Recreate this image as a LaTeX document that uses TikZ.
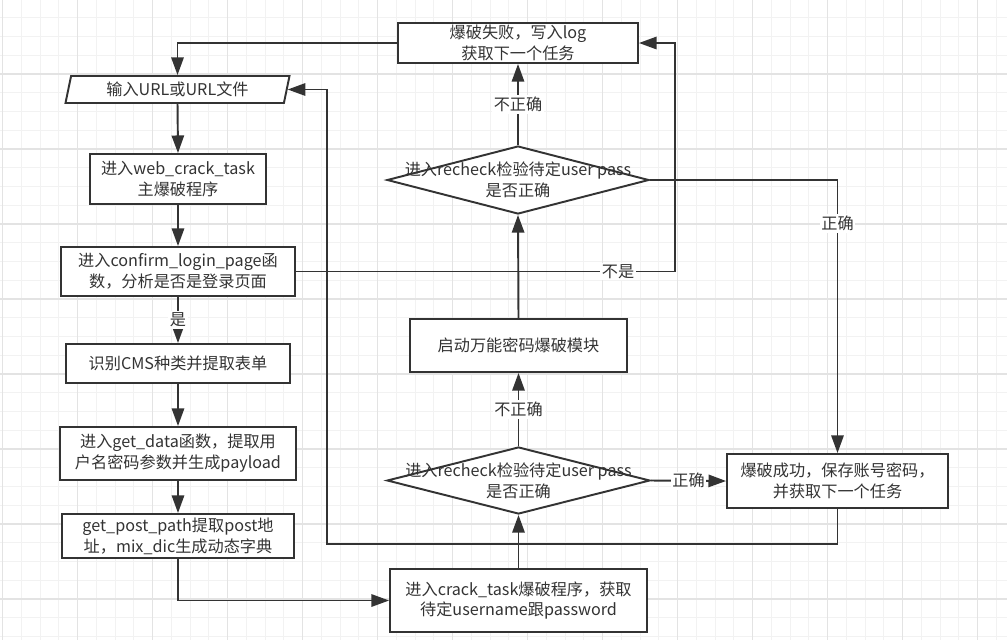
\documentclass[tikz,border=0pt]{standalone}
\usepackage{fontspec}
\setmainfont{Noto Sans CJK SC}
\usetikzlibrary{shapes.geometric,arrows.meta}
\definecolor{ink}{HTML}{333333}
\definecolor{gridminor}{HTML}{F2F2F2}
\definecolor{gridmajor}{HTML}{E3E3E3}

\begin{document}
\begin{tikzpicture}[x=0.02cm,y=-0.02cm,font=\fontsize{9.2pt}{11.9pt}\selectfont,text=ink,
  box/.style={draw=ink,line width=1.1pt,fill=white,align=center,inner sep=0pt},
  io/.style={box,trapezium,trapezium left angle=76,trapezium right angle=104,trapezium stretches=true},
  test/.style={box,diamond},
  link/.style={draw=ink,line width=1.1pt},
  arr/.style={link,-{Triangle[length=10pt,width=7pt]}},
  tag/.style={fill=white,inner sep=1pt}]
  \useasboundingbox (0,0) rectangle (1007,640);
  \fill[white] (0,0) rectangle (1007,640);
  % 背景网格
  \foreach \i in {0,...,53} \draw[gridminor,line width=0.6pt] ({2.7+18.75*\i},0) -- ({2.7+18.75*\i},640);
  \foreach \i in {1,...,34} \draw[gridminor,line width=0.6pt] (0,{-1+18.75*\i}) -- (1007,{-1+18.75*\i});
  \foreach \i in {0,...,13} \draw[gridmajor,line width=0.6pt] ({2.7+75*\i},0) -- ({2.7+75*\i},640);
  \foreach \i in {1,...,8} \draw[gridmajor,line width=0.6pt] (0,{-1+75*\i}) -- (1007,{-1+75*\i});

  \node[io,minimum width=45mm,minimum height=5.4mm] (inp) at (177.5,89.5) {输入URL或URL文件};
  \node[box,minimum width=35.2mm,minimum height=10mm] (task) at (178,179) {进入web\_crack\_task\\主爆破程序};
  \node[box,minimum width=46.8mm,minimum height=9.8mm] (login) at (178,271.5) {进入confirm\_login\_page函\\数，分析是否是登录页面};
  \node[box,minimum width=44.8mm,minimum height=7.8mm] (cms) at (178,363.5) {识别CMS种类并提取表单};
  \node[box,minimum width=47.2mm,minimum height=10.6mm] (getdata) at (178,453.5) {进入get\_data函数，提取用\\户名密码参数并生成payload};
  \node[box,minimum width=46.4mm,minimum height=8.8mm] (postpath) at (178,536) {get\_post\_path提取post地\\址，mix\_dic生成动态字典};
  \node[box,minimum width=51.4mm,minimum height=12.6mm] (crack) at (518.5,600.5) {进入crack\_task爆破程序，获取\\待定username跟password};
  \node[test,minimum width=52.6mm,minimum height=13.4mm,
    label={[align=center]center:{进入recheck检验待定user pass\\是否正确}}] (chk2) at (518.5,480.5) {};
  \node[box,minimum width=43.4mm,minimum height=10.6mm] (brute) at (518.5,345.5) {启动万能密码爆破模块};
  \node[test,minimum width=52.4mm,minimum height=13.6mm,
    label={[align=center]center:{进入recheck检验待定user pass\\是否正确}}] (chk1) at (518,180) {};
  \node[box,minimum width=48mm,minimum height=8mm] (fail) at (518,43) {爆破失败，写入log\\获取下一个任务};
  \node[box,minimum width=44.2mm,minimum height=10.8mm] (succ) at (837.5,481) {爆破成功，保存账号密码，\\并获取下一个任务};
  \coordinate (rtop) at (675,43);
  \coordinate (lback) at (327,544);

  \draw[arr] (fail.west) -| (inp.north);
  \draw[arr] (inp.south) -- (task.north);
  \draw[arr] (task.south) -- (login.north);
  \draw[arr] (login.south) -- node[tag] {是} (cms.north);
  \draw[arr] (cms.south) -- (getdata.north);
  \draw[arr] (getdata.south) -- (postpath.north);
  \draw[arr] (postpath.south) |- (crack.west);
  \draw[arr] (crack.north) -- (chk2.south);
  \draw[arr] (chk2.north) -- node[tag] {不正确} (brute.south);
  \draw[arr] (brute.north) -- (chk1.south);
  \draw[arr] (chk1.north) -- node[tag] {不正确} (fail.south);
  \draw[arr] (chk1.east) -| node[tag,pos=0.58] {正确} (succ.north);
  \draw[arr] (chk2.east) -- node[tag] {正确} (succ.west);
  \draw[arr] (login.east) -- node[tag,pos=0.85] {不是} (login.east -| rtop) -- (rtop) -- (fail.east);
  \draw[arr] (succ.south) |- (lback) |- (inp.east);
\end{tikzpicture}
\end{document}
